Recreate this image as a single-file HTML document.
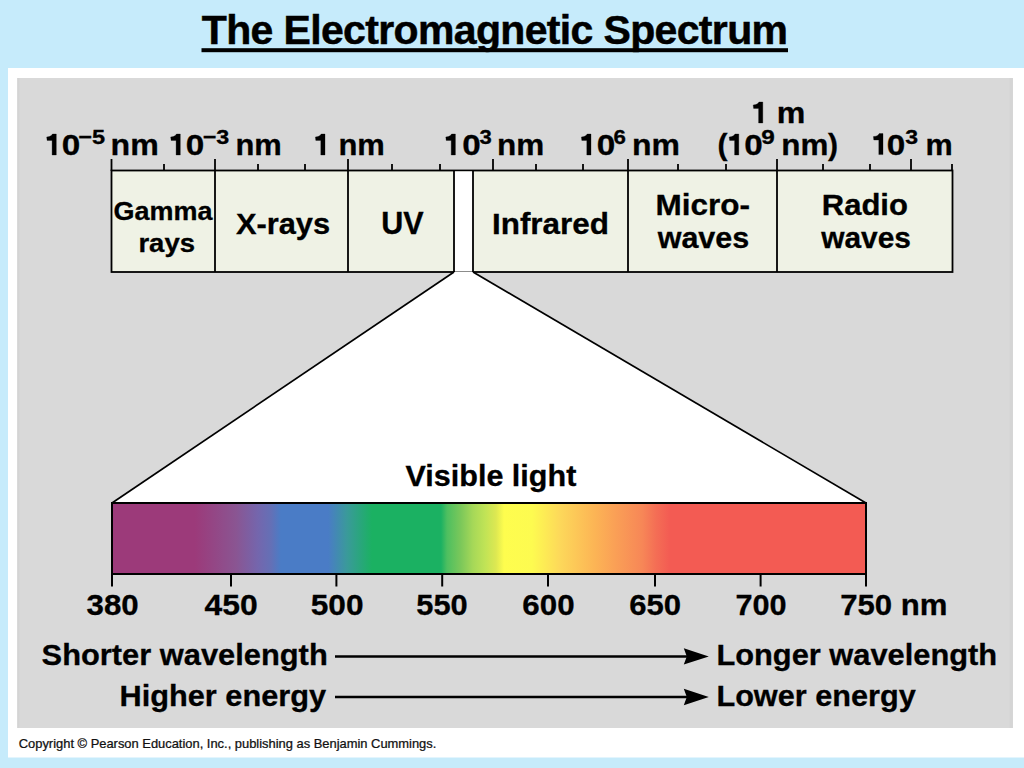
<!DOCTYPE html>
<html><head><meta charset="utf-8"><style>
html,body{margin:0;padding:0;width:1024px;height:768px;overflow:hidden;background:#c6ebfb;}
svg{display:block;font-family:"Liberation Sans", sans-serif;}
text{stroke:#000;stroke-width:0.3px;}
text.c{stroke:#111;stroke-width:0.25px;}
text.t{stroke-width:0.5px;}
</style></head><body>
<svg width="1024" height="768" viewBox="0 0 1024 768">
<rect x="0" y="0" width="1024" height="768" fill="#c6ebfb"/>
<rect x="8" y="68" width="1016" height="689.5" fill="#ffffff"/>
<rect x="17.3" y="78" width="995.6" height="650" fill="#d9d9d9"/>
<rect x="17.3" y="78" width="2" height="650" fill="#d4d4d4"/>
<rect x="1009.5" y="78" width="3.4" height="650" fill="#d5d5d5"/>
<rect x="111.5" y="170.5" width="841" height="101.5" fill="#eff2e5" stroke="#000" stroke-width="1.8"/>
<rect x="455" y="171.5" width="18" height="100" fill="#fff"/>
<line x1="215" y1="170.5" x2="215" y2="272" stroke="#000" stroke-width="1.8"/>
<line x1="348" y1="170.5" x2="348" y2="272" stroke="#000" stroke-width="1.8"/>
<line x1="454" y1="170.5" x2="454" y2="272" stroke="#000" stroke-width="1.8"/>
<line x1="473" y1="170.5" x2="473" y2="272" stroke="#000" stroke-width="1.8"/>
<line x1="628" y1="170.5" x2="628" y2="272" stroke="#000" stroke-width="1.8"/>
<line x1="777" y1="170.5" x2="777" y2="272" stroke="#000" stroke-width="1.8"/>
<line x1="111.5" y1="159" x2="111.5" y2="171" stroke="#000" stroke-width="1.8"/>
<line x1="215" y1="159" x2="215" y2="171" stroke="#000" stroke-width="1.8"/>
<line x1="348" y1="159" x2="348" y2="171" stroke="#000" stroke-width="1.8"/>
<line x1="493" y1="159" x2="493" y2="171" stroke="#000" stroke-width="1.8"/>
<line x1="628" y1="159" x2="628" y2="171" stroke="#000" stroke-width="1.8"/>
<line x1="777" y1="159" x2="777" y2="171" stroke="#000" stroke-width="1.8"/>
<line x1="911" y1="159" x2="911" y2="171" stroke="#000" stroke-width="1.8"/>
<line x1="164" y1="164" x2="164" y2="171" stroke="#000" stroke-width="1.8"/>
<line x1="258" y1="164" x2="258" y2="171" stroke="#000" stroke-width="1.8"/>
<line x1="305" y1="164" x2="305" y2="171" stroke="#000" stroke-width="1.8"/>
<line x1="392" y1="164" x2="392" y2="171" stroke="#000" stroke-width="1.8"/>
<line x1="440" y1="164" x2="440" y2="171" stroke="#000" stroke-width="1.8"/>
<line x1="536" y1="164" x2="536" y2="171" stroke="#000" stroke-width="1.8"/>
<line x1="583" y1="164" x2="583" y2="171" stroke="#000" stroke-width="1.8"/>
<line x1="678" y1="164" x2="678" y2="171" stroke="#000" stroke-width="1.8"/>
<line x1="726" y1="164" x2="726" y2="171" stroke="#000" stroke-width="1.8"/>
<line x1="823" y1="164" x2="823" y2="171" stroke="#000" stroke-width="1.8"/>
<line x1="870" y1="164" x2="870" y2="171" stroke="#000" stroke-width="1.8"/>
<line x1="952" y1="164" x2="952" y2="171" stroke="#000" stroke-width="1.8"/>
<polygon points="454,272 473,272 866,503 112,503" fill="#fff"/>
<line x1="454" y1="272" x2="112" y2="503" stroke="#000" stroke-width="1.7"/>
<line x1="473" y1="272" x2="866" y2="503" stroke="#000" stroke-width="1.7"/>
<defs><linearGradient id="sp" x1="0" y1="0" x2="1" y2="0"><stop offset="0.0000" stop-color="#9c3a7a"/><stop offset="0.1101" stop-color="#9c3a7a"/><stop offset="0.1645" stop-color="#8a5592"/><stop offset="0.1936" stop-color="#7466ad"/><stop offset="0.2109" stop-color="#6470b6"/><stop offset="0.2241" stop-color="#4a7cc6"/><stop offset="0.2865" stop-color="#4a7cc6"/><stop offset="0.3117" stop-color="#3a9a9a"/><stop offset="0.3448" stop-color="#1bb162"/><stop offset="0.4363" stop-color="#1bb162"/><stop offset="0.4443" stop-color="#4dbf60"/><stop offset="0.4629" stop-color="#7cc85a"/><stop offset="0.4788" stop-color="#a6d858"/><stop offset="0.4947" stop-color="#c0e356"/><stop offset="0.5093" stop-color="#dde852"/><stop offset="0.5199" stop-color="#fefd4e"/><stop offset="0.5570" stop-color="#fdfb50"/><stop offset="0.5942" stop-color="#fdd85a"/><stop offset="0.6406" stop-color="#fcb455"/><stop offset="0.6671" stop-color="#faa056"/><stop offset="0.7029" stop-color="#f78757"/><stop offset="0.7215" stop-color="#f46e55"/><stop offset="0.7401" stop-color="#f35b53"/><stop offset="1.0000" stop-color="#f35b53"/></linearGradient></defs>
<rect x="112" y="503" width="754" height="71" fill="url(#sp)" stroke="#000" stroke-width="2"/>
<line x1="112" y1="574" x2="112" y2="586.5" stroke="#000" stroke-width="2"/>
<line x1="231" y1="574" x2="231" y2="586.5" stroke="#000" stroke-width="2"/>
<line x1="336.4" y1="574" x2="336.4" y2="586.5" stroke="#000" stroke-width="2"/>
<line x1="442.2" y1="574" x2="442.2" y2="586.5" stroke="#000" stroke-width="2"/>
<line x1="548" y1="574" x2="548" y2="586.5" stroke="#000" stroke-width="2"/>
<line x1="655" y1="574" x2="655" y2="586.5" stroke="#000" stroke-width="2"/>
<line x1="760.6" y1="574" x2="760.6" y2="586.5" stroke="#000" stroke-width="2"/>
<line x1="866" y1="574" x2="866" y2="586.5" stroke="#000" stroke-width="2"/>
<line x1="335" y1="656.4" x2="690" y2="656.4" stroke="#000" stroke-width="2.5"/>
<polygon points="683.8,648.1999999999999 708.8,656.4 683.8,664.6 686.8,656.4" fill="#000"/>
<line x1="335" y1="697" x2="690" y2="697" stroke="#000" stroke-width="2.5"/>
<polygon points="683.8,688.8 708.8,697 683.8,705.2 686.8,697" fill="#000"/>
<rect x="201.5" y="48.2" width="586.5" height="4" fill="#000"/>
<text class="t" x="201.8" y="43.8" font-size="41" font-weight="bold" letter-spacing="-0.65">The Electromagnetic Spectrum</text>
<path d="M56.30,155.00 L52.10,155.00 L52.10,140.40 L47.10,140.40 L46.70,137.00 L49.30,136.60 L51.30,135.60 L52.50,134.00 L56.30,134.00 Z" fill="#000" stroke="#000" stroke-width="0.3"/>
<text transform="translate(61.77,155.00) scale(1.1088,1.000)" font-size="30" font-weight="bold" fill="#000">0</text>
<text transform="translate(78.26,143.80) scale(1.1207,1.000)" font-size="21" font-weight="bold" fill="#000">−5</text>
<text transform="translate(110.51,155.00) scale(1.0715,1.000)" font-size="30" font-weight="bold" fill="#000">nm</text>
<path d="M180.30,155.00 L176.10,155.00 L176.10,140.40 L171.10,140.40 L170.70,137.00 L173.30,136.60 L175.30,135.60 L176.50,134.00 L180.30,134.00 Z" fill="#000" stroke="#000" stroke-width="0.3"/>
<text transform="translate(185.87,155.00) scale(1.1088,1.000)" font-size="30" font-weight="bold" fill="#000">0</text>
<text transform="translate(202.77,143.80) scale(1.1089,1.000)" font-size="21" font-weight="bold" fill="#000">−3</text>
<text transform="translate(235.39,155.00) scale(1.0303,1.000)" font-size="30" font-weight="bold" fill="#000">nm</text>
<path d="M325.00,155.00 L320.80,155.00 L320.80,140.40 L315.80,140.40 L315.40,137.00 L318.00,136.60 L320.00,135.60 L321.20,134.00 L325.00,134.00 Z" fill="#000" stroke="#000" stroke-width="0.3"/>
<text transform="translate(338.39,155.00) scale(1.0327,1.000)" font-size="30" font-weight="bold" fill="#000">nm</text>
<path d="M455.40,155.00 L451.20,155.00 L451.20,140.40 L446.20,140.40 L445.80,137.00 L448.40,136.60 L450.40,135.60 L451.60,134.00 L455.40,134.00 Z" fill="#000" stroke="#000" stroke-width="0.3"/>
<text transform="translate(462.27,155.00) scale(1.1088,1.000)" font-size="30" font-weight="bold" fill="#000">0</text>
<text transform="translate(479.45,143.80) scale(1.0486,1.000)" font-size="21" font-weight="bold" fill="#000">3</text>
<text transform="translate(496.95,155.00) scale(1.0497,1.000)" font-size="30" font-weight="bold" fill="#000">nm</text>
<path d="M591.00,155.00 L586.80,155.00 L586.80,140.40 L581.80,140.40 L581.40,137.00 L584.00,136.60 L586.00,135.60 L587.20,134.00 L591.00,134.00 Z" fill="#000" stroke="#000" stroke-width="0.3"/>
<text transform="translate(596.67,155.00) scale(1.1088,1.000)" font-size="30" font-weight="bold" fill="#000">0</text>
<text transform="translate(613.62,143.80) scale(1.0604,1.000)" font-size="21" font-weight="bold" fill="#000">6</text>
<text transform="translate(631.92,155.00) scale(1.0667,1.000)" font-size="30" font-weight="bold" fill="#000">nm</text>
<path d="M762.80,123.00 L758.60,123.00 L758.60,108.40 L753.60,108.40 L753.20,105.00 L755.80,104.60 L757.80,103.60 L759.00,102.00 L762.80,102.00 Z" fill="#000" stroke="#000" stroke-width="0.3"/>
<text transform="translate(776.71,123.00) scale(1.0719,1.000)" font-size="30" font-weight="bold" fill="#000">m</text>
<text transform="translate(717.40,155.00) scale(1.0000,1.000)" font-size="30" font-weight="bold" fill="#000">(</text>
<path d="M738.80,155.00 L734.60,155.00 L734.60,140.40 L729.60,140.40 L729.20,137.00 L731.80,136.60 L733.80,135.60 L735.00,134.00 L738.80,134.00 Z" fill="#000" stroke="#000" stroke-width="0.3"/>
<text transform="translate(744.27,155.00) scale(1.1088,1.000)" font-size="30" font-weight="bold" fill="#000">0</text>
<text transform="translate(761.15,143.80) scale(1.1586,1.000)" font-size="21" font-weight="bold" fill="#000">9</text>
<text transform="translate(781.36,155.00) scale(1.0473,1.000)" font-size="30" font-weight="bold" fill="#000">nm</text>
<text transform="translate(828.00,155.00) scale(1.0000,1.000)" font-size="30" font-weight="bold" fill="#000">)</text>
<path d="M883.00,154.60 L878.80,154.60 L878.80,140.00 L873.80,140.00 L873.40,136.60 L876.00,136.20 L878.00,135.20 L879.20,133.60 L883.00,133.60 Z" fill="#000" stroke="#000" stroke-width="0.3"/>
<text transform="translate(886.77,154.60) scale(1.1088,1.000)" font-size="30" font-weight="bold" fill="#000">0</text>
<text transform="translate(905.22,143.80) scale(1.0967,1.000)" font-size="21" font-weight="bold" fill="#000">3</text>
<text transform="translate(925.41,154.60) scale(1.0196,1.000)" font-size="30" font-weight="bold" fill="#000">m</text>
<text transform="translate(113.62,219.80) scale(1.0784,1.000)" font-size="25" font-weight="bold" fill="#000">Gamma</text>
<text transform="translate(138.41,251.60) scale(1.1015,1.000)" font-size="25" font-weight="bold" fill="#000">rays</text>
<text transform="translate(235.89,234.00) scale(1.0272,1.000)" font-size="30" font-weight="bold" fill="#000">X-rays</text>
<text transform="translate(381.17,233.80) scale(1.0010,1.000)" font-size="30.5" font-weight="bold" fill="#000">UV</text>
<text transform="translate(491.96,233.80) scale(1.0483,1.000)" font-size="30" font-weight="bold" fill="#000">Infrared</text>
<text transform="translate(655.45,215.30) scale(1.0577,1.000)" font-size="29.8" font-weight="bold" fill="#000">Micro-</text>
<text transform="translate(657.65,247.60) scale(1.0243,1.000)" font-size="29.8" font-weight="bold" fill="#000">waves</text>
<text transform="translate(821.73,215.30) scale(1.0413,1.000)" font-size="29.8" font-weight="bold" fill="#000">Radio</text>
<text transform="translate(821.15,247.60) scale(1.0039,1.000)" font-size="29.8" font-weight="bold" fill="#000">waves</text>
<text transform="translate(405.45,485.80) scale(1.0188,1.000)" font-size="30" font-weight="bold" fill="#000">Visible light</text>
<text transform="translate(86.62,614.50) scale(1.0417,1.000)" font-size="30" font-weight="bold" fill="#000">380</text>
<text transform="translate(204.52,614.50) scale(1.0642,1.000)" font-size="30" font-weight="bold" fill="#000">450</text>
<text transform="translate(310.75,614.50) scale(1.0554,1.000)" font-size="30" font-weight="bold" fill="#000">500</text>
<text transform="translate(416.27,614.50) scale(1.0282,1.000)" font-size="30" font-weight="bold" fill="#000">550</text>
<text transform="translate(522.30,614.50) scale(1.0440,1.000)" font-size="30" font-weight="bold" fill="#000">600</text>
<text transform="translate(629.21,614.50) scale(1.0356,1.000)" font-size="30" font-weight="bold" fill="#000">650</text>
<text transform="translate(735.47,614.50) scale(1.0221,1.000)" font-size="30" font-weight="bold" fill="#000">700</text>
<text transform="translate(840.15,614.50) scale(1.0384,1.000)" font-size="30" font-weight="bold" fill="#000">750 nm</text>
<text transform="translate(41.57,664.60) scale(1.0181,1.000)" font-size="30.3" font-weight="bold" fill="#000">Shorter wavelength</text>
<text transform="translate(119.50,705.80) scale(1.0142,1.000)" font-size="30.3" font-weight="bold" fill="#000">Higher energy</text>
<text transform="translate(716.40,664.60) scale(1.0171,1.000)" font-size="30.3" font-weight="bold" fill="#000">Longer wavelength</text>
<text transform="translate(716.41,705.80) scale(1.0122,1.000)" font-size="30.3" font-weight="bold" fill="#000">Lower energy</text>
<text class="c" transform="translate(18.75,747.70) scale(1.0591,1.000)" font-size="12.2" font-weight="normal" fill="#111">Copyright © Pearson Education, Inc., publishing as Benjamin Cummings.</text>
</svg>
</body></html>
